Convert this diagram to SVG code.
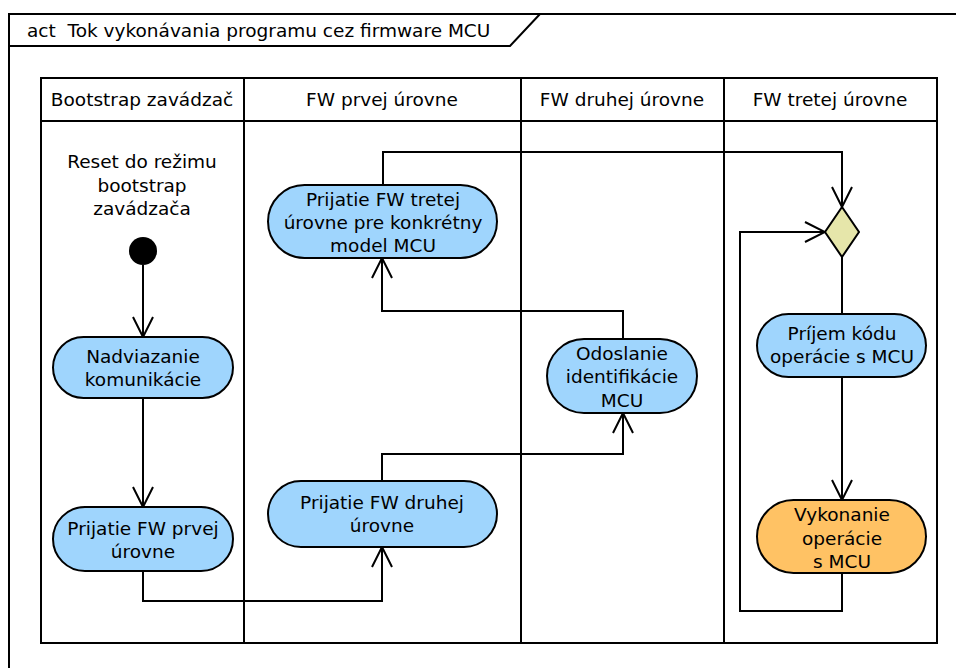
<svg xmlns="http://www.w3.org/2000/svg" width="956" height="668" viewBox="0 0 956 668">
  <defs>
    <style>
      text { font-family: "DejaVu Sans", "Liberation Sans", sans-serif; font-size: 18.5px; fill: #000; text-anchor: middle; }
      .title { text-anchor: start; white-space: pre; }
      .frame { fill: none; stroke: #000; stroke-width: 2; }
      .act { fill: #9fd5fd; stroke: #000; stroke-width: 2; }
      .act-exec { fill: #ffc264; stroke: #000; stroke-width: 2; }
      .merge { fill: #e6e6aa; stroke: #000; stroke-width: 2; }
      .flow { fill: none; stroke: #000; stroke-width: 2; }
    </style>
    <marker id="open-arrow" viewBox="0 0 24 22" refX="22" refY="11" markerWidth="24" markerHeight="22" markerUnits="userSpaceOnUse" orient="auto">
      <path d="M2,1 L22,11 L2,21" fill="none" stroke="#000" stroke-width="2"/>
    </marker>
  </defs>

  <rect width="956" height="668" fill="#fff"/>

  <!-- activity frame with name tab -->
  <g id="frame">
    <path class="frame" d="M956,14 L9,14 L9,668"/>
    <path class="frame" d="M9,46 L510,46 L540,14"/>
    <text class="title" x="27" y="37" xml:space="preserve">act  Tok vykonávania programu cez firmware MCU</text>
  </g>

  <!-- swimlanes -->
  <g id="lanes">
    <rect class="frame" x="41" y="78" width="896" height="565"/>
    <line class="frame" x1="41" y1="121" x2="937" y2="121"/>
    <line class="frame" x1="244" y1="78" x2="244" y2="643"/>
    <line class="frame" x1="521" y1="78" x2="521" y2="643"/>
    <line class="frame" x1="724" y1="78" x2="724" y2="643"/>
    <text x="142" y="106">Bootstrap zavádzač</text>
    <text x="382" y="106">FW prvej úrovne</text>
    <text x="622" y="106">FW druhej úrovne</text>
    <text x="830" y="106">FW tretej úrovne</text>
  </g>

  <!-- control flows -->
  <g id="connectors">
    <path class="flow" d="M143,265 L143,337" marker-end="url(#open-arrow)"/>
    <path class="flow" d="M143,398 L143,507" marker-end="url(#open-arrow)"/>
    <path class="flow" d="M143,571 L143,601 L382,601 L382,547" marker-end="url(#open-arrow)"/>
    <path class="flow" d="M382,481 L382,454 L623,454 L623,413" marker-end="url(#open-arrow)"/>
    <path class="flow" d="M623,339 L623,311 L382,311 L382,258" marker-end="url(#open-arrow)"/>
    <path class="flow" d="M383,185 L383,152 L842,152 L842,207" marker-end="url(#open-arrow)"/>
    <path class="flow" d="M842,257 L842,314"/>
    <path class="flow" d="M842,377 L842,500" marker-end="url(#open-arrow)"/>
    <path class="flow" d="M842,573 L842,611 L740,611 L740,232 L825,232" marker-end="url(#open-arrow)"/>
  </g>

  <g id="reset-label">
    <text x="142" y="168">Reset do režimu</text>
    <text x="142" y="192">bootstrap</text>
    <text x="142" y="215">zavádzača</text>
  </g>

  <g id="initial">
    <circle cx="143" cy="251" r="14" fill="#000"/>
  </g>

  <g id="nadviazanie">
    <rect class="act" x="53" y="337" width="180" height="61" rx="30.5"/>
    <text x="143" y="363">Nadviazanie</text>
    <text x="143" y="386">komunikácie</text>
  </g>

  <g id="prijatie-prvej">
    <rect class="act" x="53" y="507" width="180" height="64" rx="32"/>
    <text x="143" y="535">Prijatie FW prvej</text>
    <text x="143" y="558">úrovne</text>
  </g>

  <g id="prijatie-druhej">
    <rect class="act" x="268" y="481" width="229" height="66" rx="33"/>
    <text x="382" y="509">Prijatie FW druhej</text>
    <text x="382" y="532">úrovne</text>
  </g>

  <g id="prijatie-tretej">
    <rect class="act" x="268" y="185" width="229" height="73" rx="36.5"/>
    <text x="383" y="206">Prijatie FW tretej</text>
    <text x="383" y="229">úrovne pre konkrétny</text>
    <text x="383" y="252">model MCU</text>
  </g>

  <g id="odoslanie">
    <rect class="act" x="547" y="339" width="150" height="74" rx="37"/>
    <text x="622" y="360">Odoslanie</text>
    <text x="622" y="383">identifikácie</text>
    <text x="622" y="407">MCU</text>
  </g>

  <g id="merge">
    <path class="merge" d="M842,207 L859,232 L842,257 L825,232 Z"/>
  </g>

  <g id="prijem-kodu">
    <rect class="act" x="757" y="314" width="169" height="63" rx="31.5"/>
    <text x="842" y="340">Príjem kódu</text>
    <text x="842" y="363">operácie s MCU</text>
  </g>

  <g id="vykonanie">
    <rect class="act-exec" x="757" y="500" width="169" height="73" rx="36.5"/>
    <text x="842" y="521">Vykonanie</text>
    <text x="842" y="545">operácie</text>
    <text x="842" y="568">s MCU</text>
  </g>
</svg>
